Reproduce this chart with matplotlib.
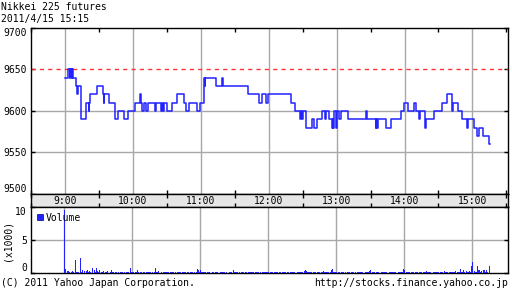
import numpy as np
import matplotlib
matplotlib.use("Agg")
import matplotlib.pyplot as plt

TITULO = "Nikkei 225 futures"
FECHA = "2011/4/15 15:15"
CIERRE_ANTERIOR = 9650
INICIO = 9 * 60  # 9:00 en minutos

# cambios de precio: minuto desde las 9:00 -> precio
MIN_PRECIO = [0, 3, 4.4, 4.7, 6, 6.3, 7.4, 9.7, 10.6, 11.8, 13.8, 18.8, 21.2, 21.6,
              22.1, 28.5, 33.8, 34.4, 34.8, 39, 43.8, 46.8, 52.1, 55.6, 61.8, 66.2,
              66.8, 68.5, 70, 71.8, 73.2, 79.9, 80.6, 85, 85.6, 86.5, 87.4, 90.3,
              94.7, 99.1, 105, 107, 109.4, 116.8, 119.7, 122.4, 123, 123.5, 124.1,
              133, 138.5, 140, 161.5, 171.2, 174.4, 177.6, 179.7, 200, 203.2, 207.6,
              208.4, 209.2, 209.9, 212.6, 218.5, 220, 222.9, 227.4, 229.4, 230.9,
              233.2, 235.6, 236.4, 237, 237.6, 239.7, 240.3, 242, 243.5, 250, 265.6,
              266.8, 274.4, 275, 276, 276.5, 283.2, 288.2, 297, 299.4, 302.9, 308.2,
              310.3, 313.2, 314, 318.5, 319, 325.9, 333.5, 337.8, 341.6, 343, 347.4,
              350.4, 354.8, 356.3, 361, 364.2, 365.9, 369.7, 374.7, 375.5]
PRECIO = [9640, 9650, 9640, 9650, 9640, 9650, 9640, 9630, 9620, 9630, 9590, 9610, 9600, 9610,
          9620, 9630, 9620, 9610, 9620, 9610, 9590, 9600, 9590, 9600, 9610, 9620,
          9610, 9600, 9610, 9600, 9610, 9600, 9610, 9600, 9610, 9600, 9610, 9600,
          9610, 9620, 9610, 9600, 9610, 9600, 9610, 9630, 9640, 9630, 9640,
          9630, 9640, 9630, 9620, 9610, 9620, 9610, 9620, 9610, 9600, 9590,
          9600, 9590, 9600, 9580, 9590, 9580, 9590, 9600, 9590, 9600,
          9590, 9580, 9590, 9580, 9600, 9580, 9600, 9590, 9600, 9590, 9600,
          9590, 9580, 9590, 9580, 9590, 9580, 9590, 9600, 9610, 9600, 9610,
          9600, 9590, 9600, 9580, 9590, 9600, 9610, 9620, 9600, 9610, 9600,
          9590, 9580, 9590, 9580, 9570, 9580, 9570, 9560, 9560]

# volumen por minuto (centenas de contratos), 9:00 -> 15:15
VOL_BASE = ("0633202315" "2120325303" "5232705283" "2412302130" "1412021201"
            "2102121072" "2112520112" "1021212201" "8213020112" "1201121012"
            "2110212011" "0121201641" "4212101210" "1202110121" "1102012104"
            "1210201121" "2021121012" "1101221121" "2121012112" "1021121202"
            "1212021122" "2353221222" "1202121232" "2112256221" "2120121012"
            "1201212011" "2112012123" "4121021201" "2121201212" "1210212126"
            "4221201212" "1202121213" "2121022121" "1212032121" "2212132126"
            "2152312328" "0312045235" "524200")
VOL_PICOS = {0: 95, 9: 19, 14: 22, 359: 10, 360: 17, 364: 11, 375: 11}

HORAS = [9, 10, 11, 12, 13, 14, 15]

AZUL = "#2222ff"
GRIS = "#a8a8a8"
plt.rcParams["font.family"] = "DejaVu Sans Mono"
plt.rcParams["font.size"] = 7

W, H = 512, 301


def rect(x0, y0, x1, y1):
    # pixeles (origen arriba-izquierda) -> coordenadas de figura
    return [x0 / W, 1 - y1 / H, (x1 - x0) / W, (y1 - y0) / H]


fig = plt.figure(figsize=(5.12, 3.01), dpi=100)
fig.patch.set_facecolor("white")

XMIN, XMAX = 510.6, 931.4
x_horas = [h * 60 for h in HORAS]
x_medias = [h * 60 + 30 for h in range(8, 16)]

# ──────────────────────────────────────────────────────────────
# PRECIO
# ──────────────────────────────────────────────────────────────
ax = fig.add_axes(rect(31, 28, 508, 194))
ax.set_xlim(XMIN, XMAX)
ax.set_ylim(9500, 9700)
ax.set_yticks([9500, 9550, 9600, 9650, 9700])
ax.set_yticklabels(["9500", "9550", "9600", "9650", "9700"])
ax.get_yticklabels()[-1].set_va("top")
ax.get_yticklabels()[0].set_va("bottom")
ax.set_xticks(x_horas)
ax.set_xticks(x_medias, minor=True)
ax.tick_params(axis="x", which="both", bottom=True, top=True, labelbottom=False,
               direction="in", length=3, width=1, color="black")
ax.tick_params(axis="x", which="major", length=0)
ax.tick_params(axis="y", left=True, right=True, direction="in", length=3,
               width=1, pad=3)
for v in x_horas:
    ax.axvline(v, color=GRIS, lw=1, zorder=1)
for v in [9550, 9600]:
    ax.axhline(v, color=GRIS, lw=1, zorder=1)
ax.axhline(CIERRE_ANTERIOR, color="#ff3333", lw=1, dashes=(3, 3), zorder=2)

xp = [INICIO + m for m in MIN_PRECIO]
ax.step(xp, PRECIO, where="post", color=AZUL, lw=1.1, zorder=3)
for s in ax.spines.values():
    s.set_linewidth(1)

# ──────────────────────────────────────────────────────────────
# BANDA DE HORAS
# ──────────────────────────────────────────────────────────────
band = fig.add_axes(rect(31, 194, 508, 207))
band.set_facecolor("#e6e6e6")
band.set_xlim(XMIN, XMAX)
band.set_ylim(0, 1)
band.set_xticks(x_medias)
band.tick_params(axis="x", bottom=True, top=True, labelbottom=False,
                 direction="in", length=3, width=1)
band.set_yticks([])
for h, v in zip(HORAS, x_horas):
    band.text(v, 0.45, f"{h}:00", ha="center", va="center", fontsize=7)
for s in band.spines.values():
    s.set_linewidth(1)

# ──────────────────────────────────────────────────────────────
# VOLUMEN
# ──────────────────────────────────────────────────────────────
vol = np.array([int(c) for c in VOL_BASE], dtype=float)
for m, v in VOL_PICOS.items():
    vol[m] = v
vol = vol / 10.0  # miles

axv = fig.add_axes(rect(31, 207, 508, 273))
axv.set_xlim(XMIN, XMAX)
axv.set_ylim(0, 10)
axv.set_yticks([0, 5, 10])
axv.set_yticklabels(["0", "5", "10"])
axv.get_yticklabels()[-1].set_va("top")
axv.get_yticklabels()[0].set_va("bottom")
axv.set_xticks(x_horas)
axv.tick_params(axis="x", which="both", bottom=False, top=False, labelbottom=False)
axv.tick_params(axis="y", left=True, right=True, direction="in", length=3,
                width=1, pad=3)
for v in x_horas:
    axv.axvline(v, color=GRIS, lw=1, zorder=1)
axv.axhline(5, color=GRIS, lw=1, zorder=1)
axv.bar(INICIO + np.arange(len(vol)), vol, width=0.9, align="edge",
        color=AZUL, linewidth=0, zorder=3)
for s in axv.spines.values():
    s.set_linewidth(1)

# leyenda
axv.plot([], [], "s", color=AZUL, markersize=5, markeredgecolor="#000080",
         markeredgewidth=0.5, label="Volume")
axv.legend(loc="upper left", frameon=False, handlelength=0.6, handletextpad=0.3,
           borderaxespad=0.4, borderpad=0.2, fontsize=7)

# ──────────────────────────────────────────────────────────────
# TEXTOS
# ──────────────────────────────────────────────────────────────
fig.text(8 / W, 1 - 240 / H, "(x1000)", ha="center", va="center",
         rotation=90, fontsize=7)
fig.text(1 / W, 1 - 7 / H, TITULO, ha="left", va="center", fontsize=7)
fig.text(1 / W, 1 - 19 / H, FECHA, ha="left", va="center", fontsize=7)
fig.text(1 / W, 1 - 283 / H, "(C) 2011 Yahoo Japan Corporation.", ha="left",
         va="center", fontsize=7)
fig.text(508 / W, 1 - 283 / H, "http://stocks.finance.yahoo.co.jp", ha="right",
         va="center", fontsize=7)

fig.savefig("out.png", dpi=100)
